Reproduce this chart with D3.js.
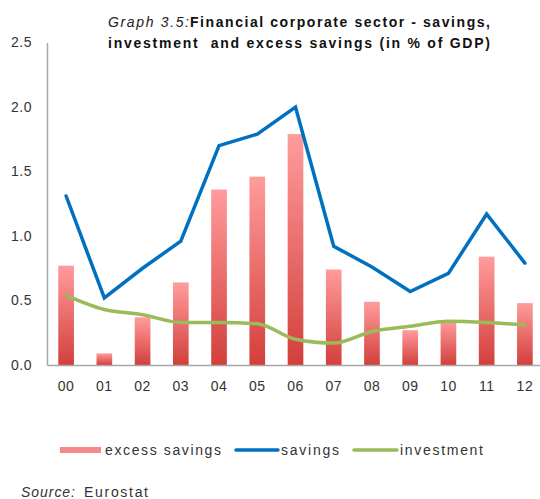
<!DOCTYPE html>
<html>
<head>
<meta charset="utf-8">
<script src="https://cdn.jsdelivr.net/npm/d3@7"></script>
<style>
  body { margin: 0; background: #fff; }
  svg { display: block; font-family: "Liberation Sans", Arial, sans-serif; }
</style>
</head>
<body>
<div id="chart"></div>
<script>
// data
var years = ["00", "01", "02", "03", "04", "05", "06", "07", "08", "09", "10", "11", "12"];
var excessSavings = [0.77, 0.09, 0.37, 0.64, 1.36, 1.46, 1.79, 0.74, 0.49, 0.27, 0.34, 0.84, 0.48];
var savings = [1.31, 0.52, 0.75, 0.96, 1.70, 1.79, 2.00, 0.92, 0.76, 0.57, 0.71, 1.17, 0.79];
var investment = [0.54, 0.43, 0.39, 0.33, 0.33, 0.32, 0.20, 0.17, 0.26, 0.30, 0.34, 0.33, 0.31];
var yTicks = [0, 0.5, 1.0, 1.5, 2.0, 2.5];

// sizes
var svgWidth = 540;
var svgHeight = 499;
var margin = { top: 42.5, left: 47 };
var plotWidth = 497;
var plotHeight = 322.5;

var svg = d3.select("#chart")
    .append("svg")
    .attr("width", svgWidth)
    .attr("height", svgHeight);

var defs = svg.append("defs");
var grad = defs.append("linearGradient")
    .attr("id", "barGrad")
    .attr("x1", 0).attr("y1", 0).attr("x2", 0).attr("y2", 1);
grad.append("stop").attr("offset", "0%").attr("stop-color", "#ff9c9c");
grad.append("stop").attr("offset", "100%").attr("stop-color", "#d33f3b");

var chartGroup = svg.append("g")
    .attr("transform", `translate(${margin.left}, ${margin.top})`);

// scales
var xScale = d3.scaleBand()
    .domain(years)
    .range([0, plotWidth])
    .paddingInner(0.59)
    .paddingOuter(0.295);

var xPoint = d => xScale(d) + xScale.bandwidth() / 2;

var yScale = d3.scaleLinear()
    .domain([0, 2.5])
    .range([plotHeight, 0]);

// bars
chartGroup.selectAll(".bar")
    .data(years)
    .enter()
    .append("rect")
    .attr("class", "bar")
    .attr("x", d => xScale(d))
    .attr("width", xScale.bandwidth())
    .attr("y", (d, i) => yScale(excessSavings[i]))
    .attr("height", (d, i) => plotHeight - yScale(excessSavings[i]))
    .attr("fill", "url(#barGrad)");

// axes
var bottomAxis = d3.axisBottom(xScale).tickSize(0).tickPadding(16);
var leftAxis = d3.axisLeft(yScale).tickValues(yTicks).tickSize(0).tickPadding(15)
    .tickFormat(d3.format(".1f"));

var xAxisG = chartGroup.append("g")
    .attr("transform", `translate(0, ${plotHeight})`)
    .call(bottomAxis);

var yAxisG = chartGroup.append("g")
    .call(leftAxis);

[xAxisG, yAxisG].forEach(function(g) {
    g.select(".domain").attr("stroke", "#a6a6a6").attr("stroke-width", 1.5);
    g.selectAll("text")
        .attr("font-size", 14)
        .attr("fill", "#333")
        .attr("letter-spacing", 0.5)
        .attr("font-family", "Liberation Sans, Arial, sans-serif");
});

// lines
var savingsLine = d3.line()
    .x((d, i) => xPoint(years[i]))
    .y(d => yScale(d));

var investLine = d3.line()
    .x((d, i) => xPoint(years[i]))
    .y(d => yScale(d))
    .curve(d3.curveMonotoneX);

chartGroup.append("path")
    .datum(investment)
    .attr("d", investLine)
    .attr("fill", "none")
    .attr("stroke", "#9bbb59")
    .attr("stroke-width", 3.5)
    .attr("stroke-linejoin", "round")
    .attr("stroke-linecap", "round");

chartGroup.append("path")
    .datum(savings)
    .attr("d", savingsLine)
    .attr("fill", "none")
    .attr("stroke", "#0070c0")
    .attr("stroke-width", 3.5)
    .attr("stroke-linejoin", "miter")
    .attr("stroke-linecap", "round");

// title (stretched to the width the original uses)
function addText(x, y, str, len, opts) {
    var t = svg.append("text")
        .attr("x", x).attr("y", y)
        .attr("font-size", 14)
        .attr("fill", "#111")
        .attr("textLength", len)
        .attr("lengthAdjust", "spacing")
        .style("white-space", "pre")
        .text(str);
    if (opts && opts.italic) t.attr("font-style", "italic");
    if (opts && opts.bold) t.attr("font-weight", "bold");
    if (opts && opts.fill) t.attr("fill", opts.fill);
    return t;
}

addText(108, 27, "Graph 3.5:", 81, { italic: true, fill: "#222" });
addText(190, 27, "Financial corporate sector - savings,", 300, { bold: true });
addText(108, 48, "investment  and excess savings (in % of GDP)", 382, { bold: true });

// legend
var legendY = 450;
var legend = svg.append("g");
legend.append("rect")
    .attr("x", 60).attr("y", legendY - 3)
    .attr("width", 41).attr("height", 6)
    .attr("fill", "#f48a8a");
legend.append("line")
    .attr("x1", 236).attr("x2", 278)
    .attr("y1", legendY).attr("y2", legendY)
    .attr("stroke", "#0070c0").attr("stroke-width", 3.5).attr("stroke-linecap", "round");
legend.append("line")
    .attr("x1", 354).attr("x2", 397)
    .attr("y1", legendY).attr("y2", legendY)
    .attr("stroke", "#9bbb59").attr("stroke-width", 3.5).attr("stroke-linecap", "round");
addText(105, legendY + 5, "excess savings", 116, { fill: "#333" });
addText(281, legendY + 5, "savings", 58, { fill: "#333" });
addText(400, legendY + 5, "investment", 83, { fill: "#333" });

// source
addText(21, 497, "Source:", 54, { italic: true, fill: "#333" });
addText(84, 497, "Eurostat", 64, { fill: "#333" });
</script>
</body>
</html>
